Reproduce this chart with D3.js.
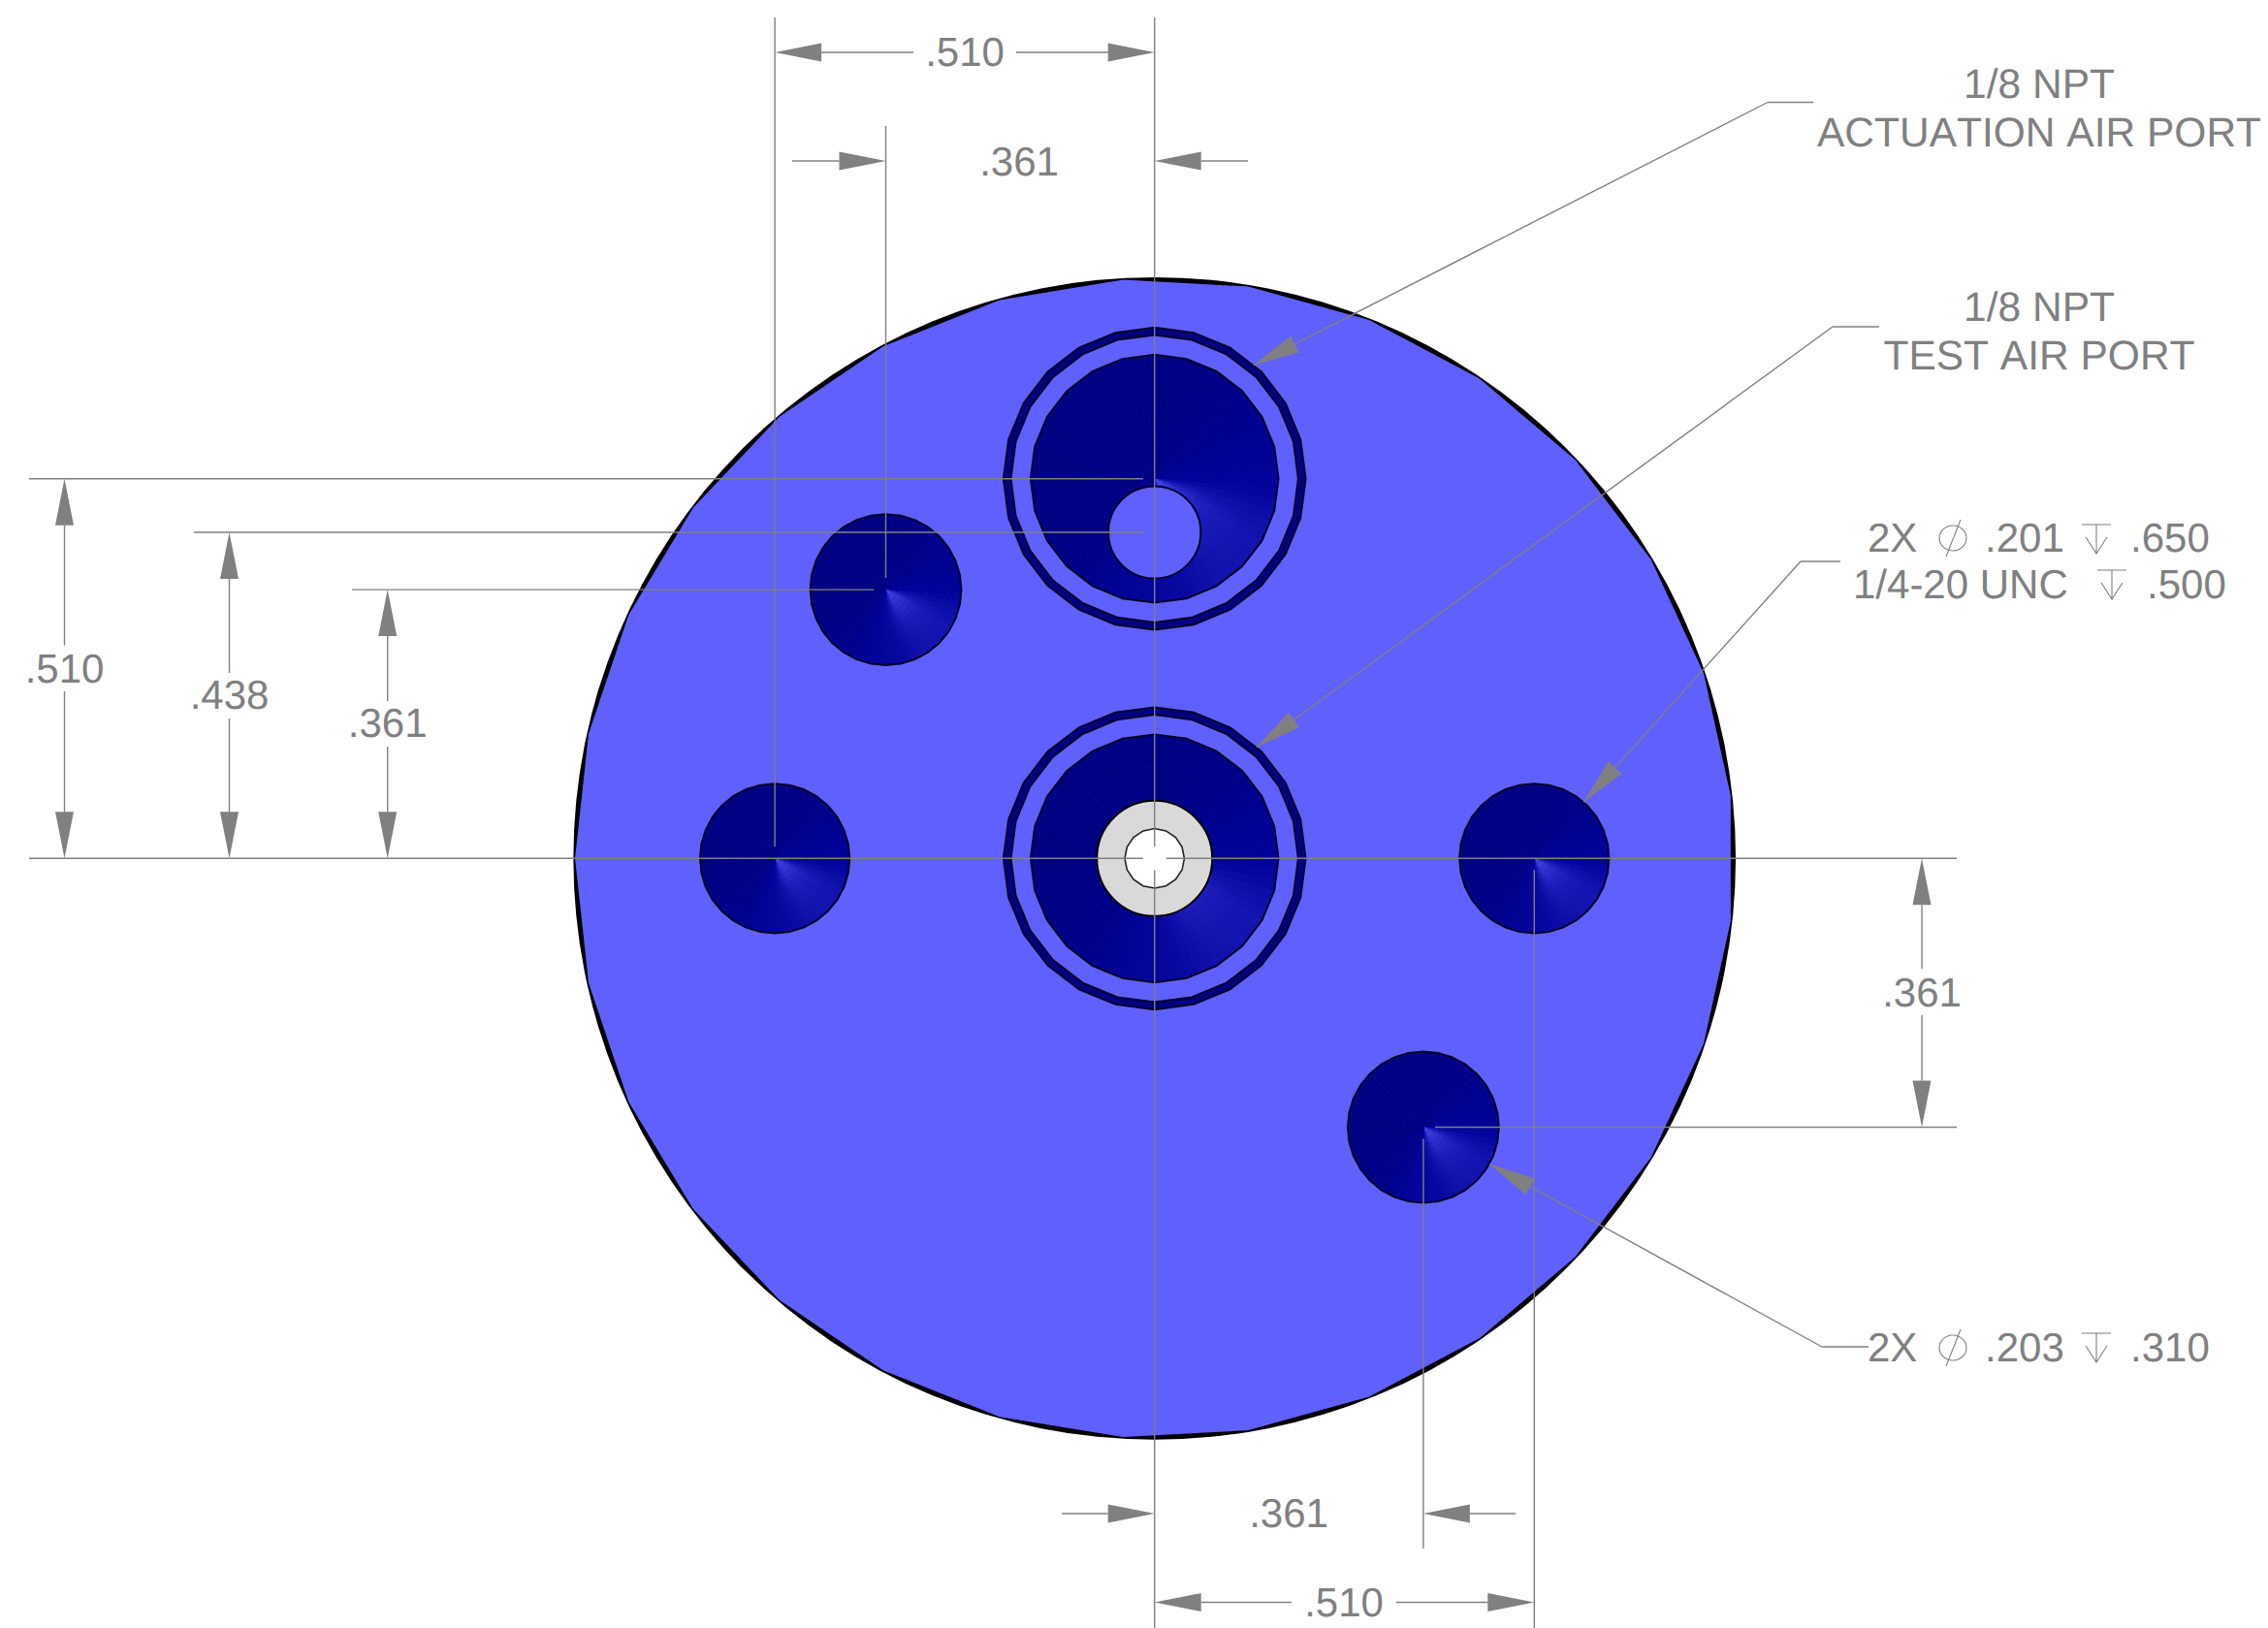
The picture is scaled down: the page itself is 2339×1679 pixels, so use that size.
<!DOCTYPE html>
<html>
<head>
<meta charset="utf-8">
<script src="https://cdn.jsdelivr.net/npm/d3@7"></script>
<style>
  body { margin: 0; background: #fff; }
  text { font-family: "Liberation Sans", Arial, sans-serif; font-size: 42px; fill: #808080; font-kerning: none; text-rendering: geometricPrecision; opacity: 0.999; }
  text.note { font-size: 42.5px; }
</style>
</head>
<body>
<div id="drawing"></div>
<script>
// part geometry in inches
const bodyDia = 1.558;
const bodyFacets = 29;

const holeX = [-0.510, 0.510, -0.361, 0.361];
const holeY = [0, 0, 0.361, -0.361];
const holeDia = [0.201, 0.201, 0.203, 0.203];

const portX = [0, 0];
const portY = [0.510, 0];
const portOuterDia = 0.406;
const portBandDia = 0.386;
const portConeDia = 0.333;

const airHoleY = 0.438;
const airHoleDia = 0.124;
const testSeatDia = 0.155;
const testBoreDia = 0.080;

// dimension values
const dimTop = [0.510, 0.361];
const dimLeft = [0.510, 0.438, 0.361];
const dimRight = [0.361];
const dimBottom = [0.361, 0.510];
const fmt = d => d.toFixed(3).replace(/^0/, "");

// callout text
const actuationNote = ["1/8 NPT", "ACTUATION AIR PORT"];
const testNote = ["1/8 NPT", "TEST AIR PORT"];
const tappedNote = ["2X", ".201", ".650", "1/4-20 UNC", ".500"];
const drilledNote = ["2X", ".203", ".310"];

const width = 2339;
const height = 1679;
const grey = "#808080";

const x = d3.scaleLinear().domain([0, 0.510]).range([1190.7, 1582.3]);
const y = d3.scaleLinear().domain([0, 0.510]).range([885.3, 493.7]);
const r = dia => x(dia / 2) - x(0);

const svg = d3.select("#drawing").append("svg")
  .attr("width", width).attr("height", height)
  .style("display", "block");

// closed polygon with n facets, first vertex at the angle start (radians, 0 = up)
function facets(cx, cy, radius, n, start) {
  const pts = d3.range(n).map(i => {
    const a = (start || 0) + i * 2 * Math.PI / n;
    return [cx + radius * Math.sin(a), cy - radius * Math.cos(a)];
  });
  return "M" + pts.join("L") + "Z";
}

// ---- body: thin black edge shows between the facets of the blue face
svg.append("circle")
  .attr("cx", x(0)).attr("cy", y(0)).attr("r", r(bodyDia) + 1.2)
  .attr("fill", "#000");
svg.append("path")
  .attr("d", facets(x(0), y(0), r(bodyDia) - 0.5, bodyFacets, -Math.PI / 2))
  .attr("fill", "#6060ff");

// ---- cone shading, angles in degrees clockwise from east
const rimTone = d3.scaleLinear()
  .domain([-180, -60, -20, 5, 30, 55, 80, 100, 130, 180])
  .range(["#000080", "#000086", "#000092", "#03039c", "#1414b0", "#1212ac", "#07079e", "#030398", "#000088", "#000080"])
  .clamp(true);
const apexGlow = d3.scaleLinear()
  .domain([5, 30, 60, 88]).range([0, 1, 1, 0]).clamp(true);

const defs = svg.append("defs");
const arc = d3.arc();
let coneId = 0;

function cone(cx, cy, radius, n) {
  const id = "cone" + (coneId++);
  const outline = facets(cx, cy, radius, n);
  defs.append("clipPath").attr("id", id).append("path").attr("d", outline);
  const g = svg.append("g").attr("clip-path", `url(#${id})`)
    .append("g").attr("transform", `translate(${cx},${cy})`);
  const rings = 14;
  d3.range(-180, 180, 5).forEach(a => {
    d3.range(rings).forEach(k => {
      const f = (k + 0.5) / rings;
      const rim = rimTone(a + 2.5);
      const glow = apexGlow(a + 2.5) * Math.pow(1 - f, 2.6);
      const c = d3.interpolateRgb(rim, "#4848e8")(glow);
      g.append("path")
        .attr("d", arc({
          innerRadius: radius * 1.03 * k / rings,
          outerRadius: radius * 1.03 * (k + 1) / rings,
          startAngle: (a + 90) * Math.PI / 180,
          endAngle: (a + 95) * Math.PI / 180
        }))
        .attr("fill", c).attr("stroke", c).attr("stroke-width", 0.6);
    });
  });
  svg.append("path").attr("d", outline)
    .attr("fill", "none").attr("stroke", "#04042a").attr("stroke-width", 2);
}

holeX.forEach((d, i) => cone(x(d), y(holeY[i]), r(holeDia[i]), 32));

portX.forEach((d, i) => {
  const cx = x(d), cy = y(portY[i]);
  svg.append("path").attr("d", facets(cx, cy, r(portOuterDia), 24))
    .attr("fill", "#000080").attr("stroke", "#04042a").attr("stroke-width", 2);
  svg.append("path").attr("d", facets(cx, cy, r(portBandDia), 24))
    .attr("fill", "#6060ff").attr("stroke", "#04042a").attr("stroke-width", 2);
  cone(cx, cy, r(portConeDia), 24);
});

svg.append("circle")
  .attr("cx", x(0)).attr("cy", y(airHoleY)).attr("r", r(airHoleDia))
  .attr("fill", "#6060ff").attr("stroke", "#04042a").attr("stroke-width", 2);
svg.append("circle")
  .attr("cx", x(0)).attr("cy", y(0)).attr("r", r(testSeatDia))
  .attr("fill", "#d9d9d9").attr("stroke", "#000").attr("stroke-width", 2);
svg.append("path")
  .attr("d", facets(x(0), y(0), r(testBoreDia), 16))
  .attr("fill", "#fff").attr("stroke", "#222").attr("stroke-width", 1.6);

// ---- dimensioning helpers
const dims = svg.append("g");

function line(x1, y1, x2, y2) {
  dims.append("line")
    .attr("x1", x1).attr("y1", y1).attr("x2", x2).attr("y2", y2)
    .attr("stroke", grey).attr("stroke-width", 1.4);
}

// arrow with its tip at (tx, ty), body running towards (fx, fy)
function arrow(tx, ty, fx, fy) {
  const len = Math.hypot(fx - tx, fy - ty);
  const ux = (fx - tx) / len, uy = (fy - ty) / len;
  const p = d3.path();
  p.moveTo(tx, ty);
  p.lineTo(tx + 48 * ux - 9.5 * uy, ty + 48 * uy + 9.5 * ux);
  p.lineTo(tx + 48 * ux + 9.5 * uy, ty + 48 * uy - 9.5 * ux);
  p.closePath();
  dims.append("path").attr("d", p.toString()).attr("fill", grey);
}

function label(str, cx, base, anchor, cls) {
  dims.append("text").text(str)
    .attr("class", cls || null)
    .attr("x", cx).attr("y", base)
    .attr("text-anchor", anchor || "middle");
}

// ---- extension lines, broken around each centre
const gap = 12;
line(x(0), 18, x(0), y(0) - gap);
line(x(0), y(0) + gap, x(0), height);
line(30, y(0), x(0) - gap, y(0));
line(x(0) + gap, y(0), 2018, y(0));

line(x(-dimTop[0]), 18, x(-dimTop[0]), y(0) - gap);
line(x(-dimTop[1]), 130, x(-dimTop[1]), y(dimTop[1]) - gap);
line(30, y(dimLeft[0]), x(0) - gap, y(dimLeft[0]));
line(200, y(dimLeft[1]), x(0) - gap, y(dimLeft[1]));
line(363, y(dimLeft[2]), x(-dimLeft[2]) - gap, y(dimLeft[2]));
line(x(dimBottom[1]), y(0) + gap, x(dimBottom[1]), height);
line(x(dimBottom[0]), y(-dimBottom[0]) + gap, x(dimBottom[0]), 1597);
line(x(dimRight[0]) + gap, y(-dimRight[0]), 2018, y(-dimRight[0]));

// ---- top dimensions
line(x(-dimTop[0]) + 48, 54, 942, 54);
line(1048, 54, x(0) - 48, 54);
arrow(x(-dimTop[0]), 54, x(0), 54);
arrow(x(0), 54, x(-dimTop[0]), 54);
label(fmt(dimTop[0]), 995, 68);

line(817, 166, x(-dimTop[1]) - 48, 166);
line(x(0) + 48, 166, 1287, 166);
arrow(x(-dimTop[1]), 166, 0, 166);
arrow(x(0), 166, width, 166);
label(fmt(dimTop[1]), 1051, 181);

// ---- left dimensions
[[66.5, 704, 665.7, 713], [236.5, 731, 694, 741], [399.7, 760, 723, 770]].forEach((p, i) => {
  const top = y(dimLeft[i]);
  line(p[0], top + 48, p[0], p[2]);
  line(p[0], p[3], p[0], y(0) - 48);
  arrow(p[0], top, p[0], y(0));
  arrow(p[0], y(0), p[0], top);
  label(fmt(dimLeft[i]), p[0], p[1]);
});

// ---- right dimension
line(1982, y(0) + 48, 1982, 999);
line(1982, 1047, 1982, y(-dimRight[0]) - 48);
arrow(1982, y(0), 1982, y(-dimRight[0]));
arrow(1982, y(-dimRight[0]), 1982, y(0));
label(fmt(dimRight[0]), 1982, 1038);

// ---- bottom dimensions
line(1095, 1561, x(0) - 48, 1561);
line(x(dimBottom[0]) + 48, 1561, 1563, 1561);
arrow(x(0), 1561, 0, 1561);
arrow(x(dimBottom[0]), 1561, width, 1561);
label(fmt(dimBottom[0]), 1329, 1575);

line(x(0) + 48, 1652.5, 1332, 1652.5);
line(1440, 1652.5, x(dimBottom[1]) - 48, 1652.5);
arrow(x(0), 1652.5, x(dimBottom[1]), 1652.5);
arrow(x(dimBottom[1]), 1652.5, x(0), 1652.5);
label(fmt(dimBottom[1]), 1386, 1667);

// ---- leaders
function leader(sx, sy, kx, tipX, tipY) {
  line(sx, sy, kx, sy);
  line(kx, sy, tipX, tipY);
  arrow(tipX, tipY, kx, sy);
}
leader(1870, 105.5, 1823, 1292.7, 376.7);
leader(1938, 337, 1890, 1295.7, 770.7);
leader(1898, 579, 1857, 1633.3, 827.3);
leader(1927, 1389, 1879, 1536, 1200.6);

// ---- callout text and the little drawn symbols
function diameter(cx, cy) {
  dims.append("ellipse").attr("cx", cx).attr("cy", cy).attr("rx", 14).attr("ry", 13)
    .attr("fill", "none").attr("stroke", grey).attr("stroke-width", 1.1);
  dims.append("line").attr("x1", cx - 7).attr("y1", cy + 19).attr("x2", cx + 8).attr("y2", cy - 19)
    .attr("stroke", grey).attr("stroke-width", 1.1);
}
function depth(left, top) {
  const mid = left + 15;
  dims.append("path")
    .attr("d", `M${left},${top}H${left + 30}M${mid},${top}V${top + 30}M${left + 4},${top + 13}L${mid},${top + 30}L${left + 26},${top + 13}`)
    .attr("fill", "none").attr("stroke", grey).attr("stroke-width", 1.1);
}

label(actuationNote[0], 2103, 101, "middle", "note");
label(actuationNote[1], 2103, 151, "middle", "note");
label(testNote[0], 2103, 331, "middle", "note");
label(testNote[1], 2103, 381, "middle", "note");

label(tappedNote[0], 1926, 568.5, "start");
diameter(2014, 555);
label(tappedNote[1], 2047, 568.5, "start");
depth(2147, 541);
label(tappedNote[2], 2197, 568.5, "start");
label(tappedNote[3], 1911, 617, "start");
depth(2163, 588);
label(tappedNote[4], 2214, 617, "start");

label(drilledNote[0], 1926, 1404, "start");
diameter(2014, 1390);
label(drilledNote[1], 2047, 1404, "start");
depth(2147, 1375);
label(drilledNote[2], 2197, 1404, "start");
</script>
</body>
</html>
